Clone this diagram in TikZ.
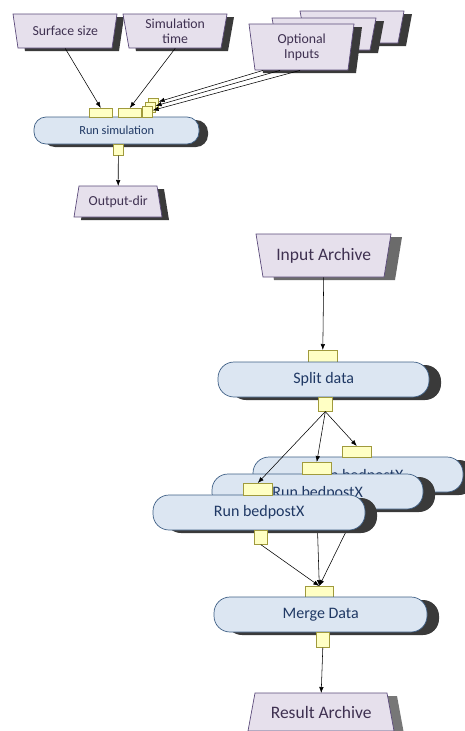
\documentclass[tikz,border=0pt]{standalone}
\usepackage{fontspec}
\setmainfont{Carlito}
\usetikzlibrary{arrows.meta,calc}
\definecolor{datafill}{HTML}{E6E0EC}
\definecolor{databorder}{HTML}{5B4A7A}
\definecolor{datatxt}{HTML}{3F3151}
\definecolor{procfill}{HTML}{DCE6F2}
\definecolor{procborder}{HTML}{3E5F85}
\definecolor{proctxt}{HTML}{1F3864}
\definecolor{portfill}{HTML}{FFFFC4}
\definecolor{portborder}{HTML}{A09A3C}
\definecolor{shdark}{HTML}{3A3A3A}
\definecolor{shgrey}{HTML}{6B6B6B}
\definecolor{shgreyb}{HTML}{777777}
\tikzset{
  datashape/.style={fill=datafill, draw=databorder, line width=0.7pt},
  datatext/.style={inner sep=0pt, text=datatxt, align=center},
  procshape/.style={fill=procfill, draw=procborder, line width=0.7pt},
  proctext/.style={inner sep=0pt, text=proctxt, align=center},
  port/.style={draw=portborder, fill=portfill, line width=0.6pt, inner sep=0pt},
  conn/.style={-{Latex[length=6pt,width=4.5pt]}, line width=0.55pt, black},
  smallfont/.style={font=\fontsize{13.8}{15.5}\selectfont},
  smallproc/.style={font=\fontsize{12.3}{14}\selectfont},
  bigfont/.style={font=\fontsize{17.5}{20}\selectfont},
  bigproc/.style={font=\fontsize{16}{18}\selectfont},
  lowtext/.style={yshift=-2pt},
}
% #1 name, #2 x0, #3 y0, #4 top width, #5 height, #6 bottom inset, #7 shadow style, #8 text style, #9 text
\newcommand\trapbox[9]{%
  \fill[#7] (#2,#3) -- ({#2+#4},#3) -- ({#2+#4-#6},{#3+#5}) -- ({#2+#6},{#3+#5}) -- cycle;
  \draw[datashape] (#2,#3) -- ({#2+#4},#3) -- ({#2+#4-#6},{#3+#5}) -- ({#2+#6},{#3+#5}) -- cycle;
  \node[datatext, #8, minimum width=#4pt, minimum height=#5pt, anchor=north west] (#1) at (#2,#3) {#9};
}
% #1 name, #2 x0, #3 y0, #4 width, #5 height, #6 radius, #7 shadow style, #8 text style, #9 text
\newcommand\procbox[9]{%
  \fill[#7, rounded corners=#6pt] (#2,#3) rectangle ++(#4,#5);
  \draw[procshape, rounded corners=#6pt] (#2,#3) rectangle ++(#4,#5);
  \node[proctext, #8, minimum width=#4pt, minimum height=#5pt, anchor=north west] (#1) at (#2,#3) {#9};
}
\newcommand\portbox[5]{%
  \node[port, minimum width=#4pt, minimum height=#5pt, anchor=north west] (#1) at (#2,#3) {};
}
\begin{document}
\begin{tikzpicture}[x=1pt,y=-1pt]
\useasboundingbox (0,0) rectangle (465,731);
% ---------- upper diagram ----------
\trapbox{ss}{13}{14}{104}{34}{5}{fill=shdark, shift={(7,3)}}{smallfont}{Surface size}
\trapbox{st}{123}{14}{104}{34}{6}{fill=shdark, shift={(7,3)}}{smallfont}{Simulation\\[-1pt]time}
\trapbox{oi3}{300}{11}{104}{32}{6}{fill=shdark, shift={(8,3)}}{smallfont}{}
\trapbox{oi2}{272}{18}{104}{32}{6}{fill=shdark, shift={(8,3)}}{smallfont}{}
\trapbox{oi1}{249}{24}{105}{46}{6}{fill=shdark, shift={(8,3)}}{smallfont}{Optional\\[-1pt]Inputs}
\procbox{rs}{34}{117}{165}{27}{12}{fill=shdark, shift={(9,3)}}{smallproc}{Run simulation}
\portbox{p1}{89}{108}{23}{9}
\portbox{p2}{118}{108}{23}{9}
\portbox{p5}{148}{98}{10}{10}
\portbox{p4}{145}{102}{10}{10}
\portbox{p3}{142}{106}{10}{11}
\portbox{p6}{113}{144}{10}{11}
\trapbox{od}{79}{186}{78}{31}{-5}{fill=shdark, shift={(7,3)}}{smallfont}{Output-dir}
\draw[conn] (ss.south) -- (p1.north);
\draw[conn] (st.south) -- (p2.north);
\draw[conn] ($(oi1.south west)+(14,0)$) -- (p5);
\draw[conn] ($(oi1.south west)+(31,0)$) -- (p4);
\draw[conn] ($(oi1.south west)+(51,0)$) -- (p3);
\draw[conn] (p6.south) -- (od.north);
% ---------- lower diagram ----------
\trapbox{ia}{256}{234}{135}{43}{7}{fill=shgrey, shift={(11,3)}}{bigfont}{Input Archive}
\portbox{sdin}{308}{350}{29}{12}
\draw[conn] (ia.south) -- (sdin.north);
\procbox{sd}{218}{362}{211}{35}{16}{fill=shdark, shift={(12,3)}}{bigproc}{Split data}
\portbox{sdout}{318}{397}{14}{14}
\portbox{mdin}{305}{586}{28}{11}
\procbox{md}{214}{597}{213}{35}{16}{fill=shdark, shift={(12,3)}}{bigproc}{Merge Data}
\portbox{mdout}{316}{632}{13}{15}
\trapbox{ra}{255}{693}{132}{38}{-7}{fill=shgreyb, shift={(10,3)}}{bigfont}{Result Archive}
\draw[conn] (mdout.south) -- (ra.north);
% bedpostX stack, back to front
\procbox{b3}{253}{457}{210}{35}{16}{fill=shdark, shift={(12,3)}}{bigproc, lowtext}{Run bedpostX}
\portbox{b3in}{342}{446}{29}{11}
\portbox{b3out}{351}{492}{14}{14}
\draw[conn] (b3out.south) -- (mdin.north);
\procbox{b2}{212}{474}{211}{35}{16}{fill=shdark, shift={(12,3)}}{bigproc, lowtext}{Run bedpostX}
\portbox{b2in}{302}{462}{29}{12}
\portbox{b2out}{310}{509}{14}{14}
\draw[conn] (b2out.south) -- (mdin.north);
\procbox{b1}{153}{495}{212}{35}{16}{fill=shdark, shift={(12,3)}}{bigproc}{Run bedpostX}
\portbox{b1in}{243}{483}{29}{12}
\portbox{b1out}{254}{530}{13}{14}
\draw[conn] (b1out.south) -- (mdin.north);
\draw[conn] (sdout.south) -- (b1in.north);
\draw[conn] (sdout.south) -- (b2in.north);
\draw[conn] (sdout.south) -- (b3in.north);
\end{tikzpicture}
\end{document}
